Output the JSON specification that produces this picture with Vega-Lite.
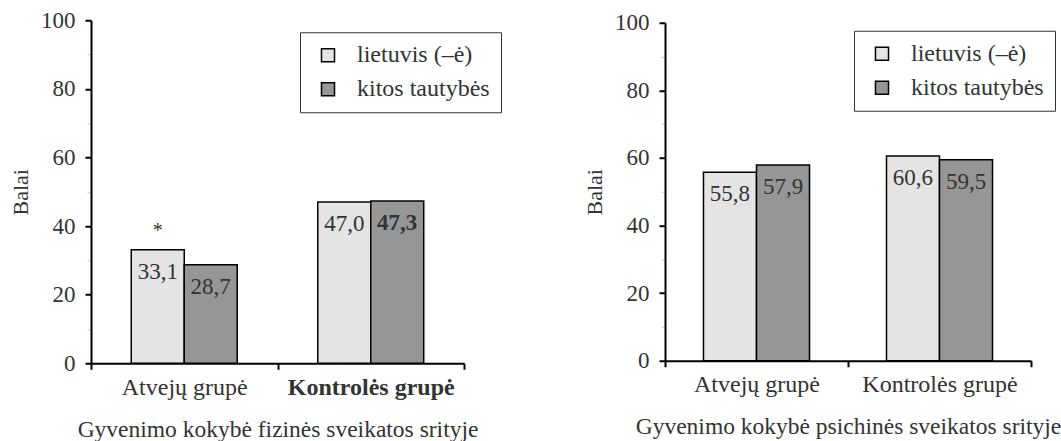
{
  "$schema": "https://vega.github.io/schema/vega-lite/v6.json",
  "padding": {"left": 9, "top": 9, "right": 0, "bottom": 0},
  "background": "white",
  "spacing": 81,
  "center": true,
  "config": {
    "view": {"stroke": null},
    "font": "Liberation Serif",
    "text": {"font": "Liberation Serif"},
    "locale": {"number": {"decimal": ",", "thousands": " ", "grouping": [3], "currency": ["", " €"]}},
    "axis": {
      "domainColor": "black", "domainWidth": 2, "tickColor": "black", "tickWidth": 2,
      "labelFont": "Liberation Serif", "titleFont": "Liberation Serif",
      "labelColor": "#333333", "labelFontSize": 23, "titleFontSize": 22, "titleFontWeight": "normal",
      "titleColor": "#333333", "grid": false
    },
    "legend": {
      "orient": "none", "title": null, "symbolType": "square", "symbolSize": 170,
      "labelFont": "Liberation Serif",
      "symbolStrokeColor": "black", "symbolStrokeWidth": 1.5, "labelFontSize": 24, "labelColor": "#333333",
      "labelOffset": 17, "rowPadding": 10, "padding": 11, "strokeColor": "#333333", "fillColor": "white",
      "symbolOffset": 5
    }
  },
  "resolve": {
    "scale": {"x": "independent", "y": "independent", "color": "independent", "xOffset": "independent"},
    "legend": {"color": "independent"}
  },
  "hconcat": [
    {
      "width": 373,
      "height": 343,
      "data": {"values": [
        {"group": "Atvejų grupė", "nat": "lietuvis (–ė)", "value": 33.1, "significant": false, "note": "*"},
        {"group": "Atvejų grupė", "nat": "kitos tautybės", "value": 28.7, "significant": false, "note": ""},
        {"group": "Kontrolės grupė", "nat": "lietuvis (–ė)", "value": 47.0, "significant": false, "note": ""},
        {"group": "Kontrolės grupė", "nat": "kitos tautybės", "value": 47.3, "significant": true, "note": ""}
      ]},
      "encoding": {
        "x": {
          "field": "group", "type": "nominal", "sort": ["Atvejų grupė", "Kontrolės grupė"],
          "scale": {"paddingInner": 0, "paddingOuter": 0},
          "axis": {
            "title": "Gyvenimo kokybė fizinės sveikatos srityje", "titleFontSize": 23.5, "titlePadding": 18,
            "labelAngle": 0, "tickBand": "extent", "tickSize": 6, "labelPadding": 6, "labelFontSize": 24,
            "labelFontWeight": {"condition": {"test": "datum.value === 'Kontrolės grupė'", "value": "bold"}, "value": "normal"}
          }
        },
        "xOffset": {
          "field": "nat", "type": "nominal", "sort": ["lietuvis (–ė)", "kitos tautybės"],
          "scale": {"paddingInner": 0, "paddingOuter": 0.76}
        },
        "y": {
          "field": "value", "type": "quantitative", "scale": {"domain": [0, 100], "nice": false},
          "axis": {
            "title": "Balai", "titlePadding": 8, "labelPadding": 10,
            "values": [0, 10, 20, 30, 40, 50, 60, 70, 80, 90, 100],
            "labelExpr": "datum.value % 20 === 0 ? datum.label : ''",
            "tickColor": {"condition": {"test": "datum.value % 20 !== 0", "value": "#cccccc"}, "value": "black"},
            "tickWidth": {"condition": {"test": "datum.value % 20 !== 0", "value": 1}, "value": 2},
            "tickSize": {"condition": {"test": "datum.value % 20 !== 0", "value": 4}, "value": 6}
          }
        }
      },
      "layer": [
        {
          "mark": {"type": "bar", "stroke": "black", "strokeWidth": 1.5},
          "encoding": {
            "color": {
              "field": "nat", "type": "nominal",
              "scale": {"domain": ["lietuvis (–ė)", "kitos tautybės"], "range": ["#e4e4e4", "#969696"]},
              "legend": {"legendX": 209, "legendY": 12}
            }
          }
        },
        {
          "transform": [{"filter": "!datum.significant"}],
          "mark": {"type": "text", "font": "Liberation Serif", "baseline": "alphabetic", "dy": 29, "fontSize": 23, "color": "#333333"},
          "encoding": {"text": {"field": "value", "type": "quantitative", "format": ".1f"}}
        },
        {
          "transform": [{"filter": "datum.significant"}],
          "mark": {"type": "text", "font": "Liberation Serif", "baseline": "alphabetic", "dy": 29, "fontSize": 23, "fontWeight": "bold", "color": "#333333"},
          "encoding": {"text": {"field": "value", "type": "quantitative", "format": ".1f"}}
        },
        {
          "transform": [{"filter": "datum.note !== ''"}],
          "mark": {"type": "text", "font": "Liberation Serif", "baseline": "alphabetic", "dy": -13, "fontSize": 20, "color": "#333333"},
          "encoding": {"text": {"field": "note", "type": "nominal"}}
        }
      ]
    },
    {
      "width": 366,
      "height": 338,
      "data": {"values": [
        {"group": "Atvejų grupė", "nat": "lietuvis (–ė)", "value": 55.8},
        {"group": "Atvejų grupė", "nat": "kitos tautybės", "value": 57.9},
        {"group": "Kontrolės grupė", "nat": "lietuvis (–ė)", "value": 60.6},
        {"group": "Kontrolės grupė", "nat": "kitos tautybės", "value": 59.5}
      ]},
      "encoding": {
        "x": {
          "field": "group", "type": "nominal", "sort": ["Atvejų grupė", "Kontrolės grupė"],
          "scale": {"paddingInner": 0, "paddingOuter": 0},
          "axis": {
            "title": "Gyvenimo kokybė psichinės sveikatos srityje", "titleFontSize": 23.5, "titlePadding": 18,
            "labelAngle": 0, "tickBand": "extent", "tickSize": 6, "labelPadding": 6, "labelFontSize": 24
          }
        },
        "xOffset": {
          "field": "nat", "type": "nominal", "sort": ["lietuvis (–ė)", "kitos tautybės"],
          "scale": {"paddingInner": 0, "paddingOuter": 0.726}
        },
        "y": {
          "field": "value", "type": "quantitative", "scale": {"domain": [0, 100], "nice": false},
          "axis": {
            "title": "Balai", "titlePadding": 8, "labelPadding": 10,
            "values": [0, 10, 20, 30, 40, 50, 60, 70, 80, 90, 100],
            "labelExpr": "datum.value % 20 === 0 ? datum.label : ''",
            "tickColor": {"condition": {"test": "datum.value % 20 !== 0", "value": "#cccccc"}, "value": "black"},
            "tickWidth": {"condition": {"test": "datum.value % 20 !== 0", "value": 1}, "value": 2},
            "tickSize": {"condition": {"test": "datum.value % 20 !== 0", "value": 4}, "value": 6}
          }
        }
      },
      "layer": [
        {
          "mark": {"type": "bar", "stroke": "black", "strokeWidth": 1.5},
          "encoding": {
            "color": {
              "field": "nat", "type": "nominal",
              "scale": {"domain": ["lietuvis (–ė)", "kitos tautybės"], "range": ["#e4e4e4", "#969696"]},
              "legend": {"legendX": 189, "legendY": 8}
            }
          }
        },
        {
          "mark": {"type": "text", "font": "Liberation Serif", "baseline": "alphabetic", "dy": 29, "fontSize": 23, "color": "#333333"},
          "encoding": {"text": {"field": "value", "type": "quantitative", "format": ".1f"}}
        }
      ]
    }
  ]
}
